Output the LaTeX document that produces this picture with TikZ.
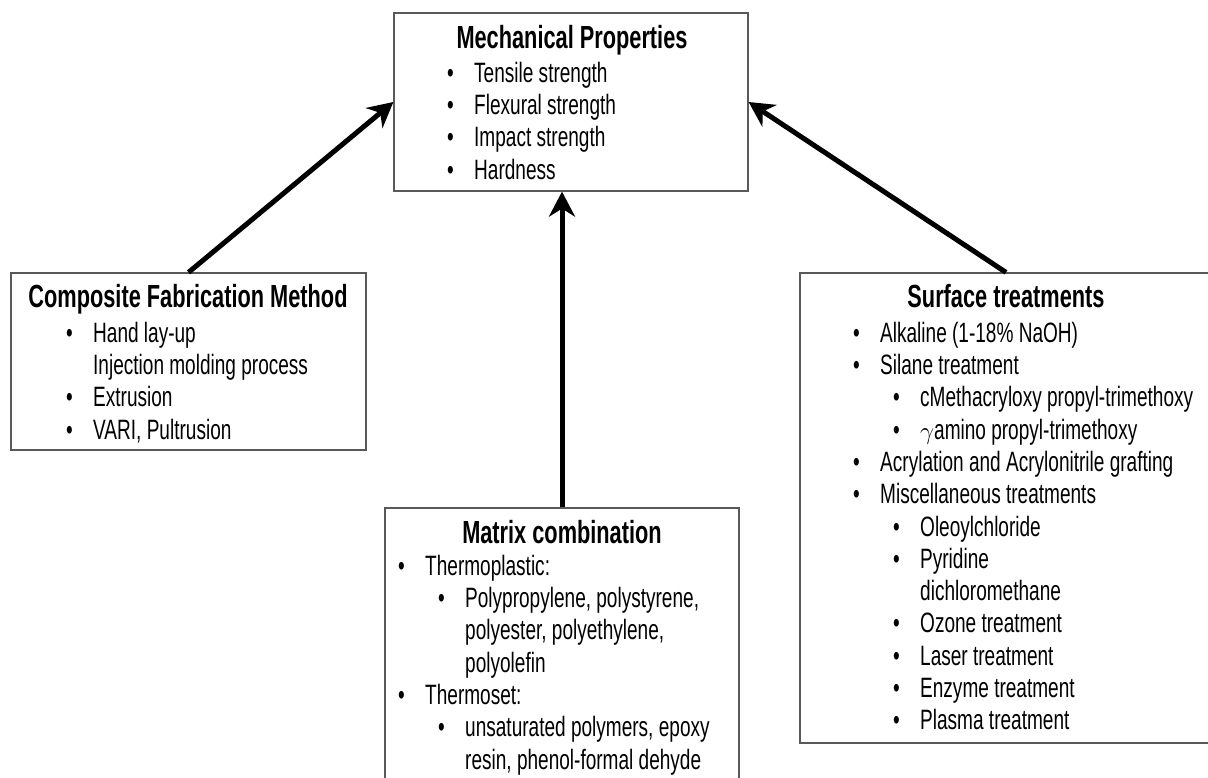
\documentclass[tikz,border=0pt]{standalone}
\usepackage{fontspec}
\setmainfont{Liberation Sans}[FakeStretch=0.68]
\usepackage{tikz}
\usetikzlibrary{arrows.meta,positioning}

% list lines
\newcommand{\bitem}[1]{\strut\makebox[27pt][l]{\textbullet}#1}
\newcommand{\bsubitem}[1]{\strut\hspace*{40pt}\makebox[27pt][l]{\textbullet}#1}
\newcommand{\bcont}[1]{\strut\hspace*{27pt}#1}
\newcommand{\bsubcont}[1]{\strut\hspace*{67pt}#1}

\begin{document}
\begin{tikzpicture}[
    x=1pt, y=-1pt,
    box/.style={draw=black!65, line width=1.2pt, inner sep=0pt},
    title/.style={font=\bfseries\fontsize{32}{36}\selectfont, anchor=base, inner sep=0pt},
    list/.style={font=\fontsize{28}{32.3}\selectfont, align=left, anchor=north west, inner sep=0pt},
    big_arrow/.style={-{Stealth[length=25pt, width=26pt, inset=8pt]}, line width=5pt}
]
    \clip (0,0) rectangle (1208,778);

    % --- Boxes ---
    \node[box, minimum width=354pt, minimum height=178pt] (mech) at (571,102) {};
    \node[box, minimum width=355pt, minimum height=177pt] (fab) at (188.5,361.5) {};
    \node[box, minimum width=412pt, minimum height=470pt] (surf) at (1006,508) {};
    \node[box, minimum width=354pt, minimum height=282pt] (matrix) at (562,649) {};

    % --- Titles ---
    \node[title] (mech_title) at (572,49) {Mechanical Properties};
    \node[title] (fab_title) at (188,307) {Composite Fabrication Method};
    \node[title] (surf_title) at (1006,307) {Surface treatments};
    \node[title] (matrix_title) at (562,543) {Matrix combination};

    % --- Lists ---
    \node[list] (mech_list) at (447,59.4) {%
        \bitem{Tensile strength}\\
        \bitem{Flexural strength}\\
        \bitem{Impact strength}\\
        \bitem{Hardness}};
    \node[list] (fab_list) at (66,319.4) {%
        \bitem{Hand lay-up}\\
        \bcont{Injection molding process}\\
        \bitem{Extrusion}\\
        \bitem{VARI, Pultrusion}};
    \node[list] (surf_list) at (853,319.4) {%
        \bitem{Alkaline (1-18\% NaOH)}\\
        \bitem{Silane treatment}\\
        \bsubitem{cMethacryloxy propyl-trimethoxy}\\
        \bsubitem{$\gamma$amino propyl-trimethoxy}\\
        \bitem{Acrylation and Acrylonitrile grafting}\\
        \bitem{Miscellaneous treatments}\\
        \bsubitem{Oleoylchloride}\\
        \bsubitem{Pyridine}\\
        \bsubcont{dichloromethane}\\
        \bsubitem{Ozone treatment}\\
        \bsubitem{Laser treatment}\\
        \bsubitem{Enzyme treatment}\\
        \bsubitem{Plasma treatment}};
    \node[list] (matrix_list) at (398,552.4) {%
        \bitem{Thermoplastic:}\\
        \bsubitem{Polypropylene, polystyrene,}\\
        \bsubcont{polyester, polyethylene,}\\
        \bsubcont{polyolefin}\\
        \bitem{Thermoset:}\\
        \bsubitem{unsaturated polymers, epoxy}\\
        \bsubcont{resin, phenol-formal dehyde}};

    % --- Arrows ---
    \draw[big_arrow] (fab.north) -- (mech.west);
    \draw[big_arrow] (surf.north) -- (mech.east);
    \draw[big_arrow] (matrix.north) -- (matrix.north |- mech.south);

\end{tikzpicture}
\end{document}
